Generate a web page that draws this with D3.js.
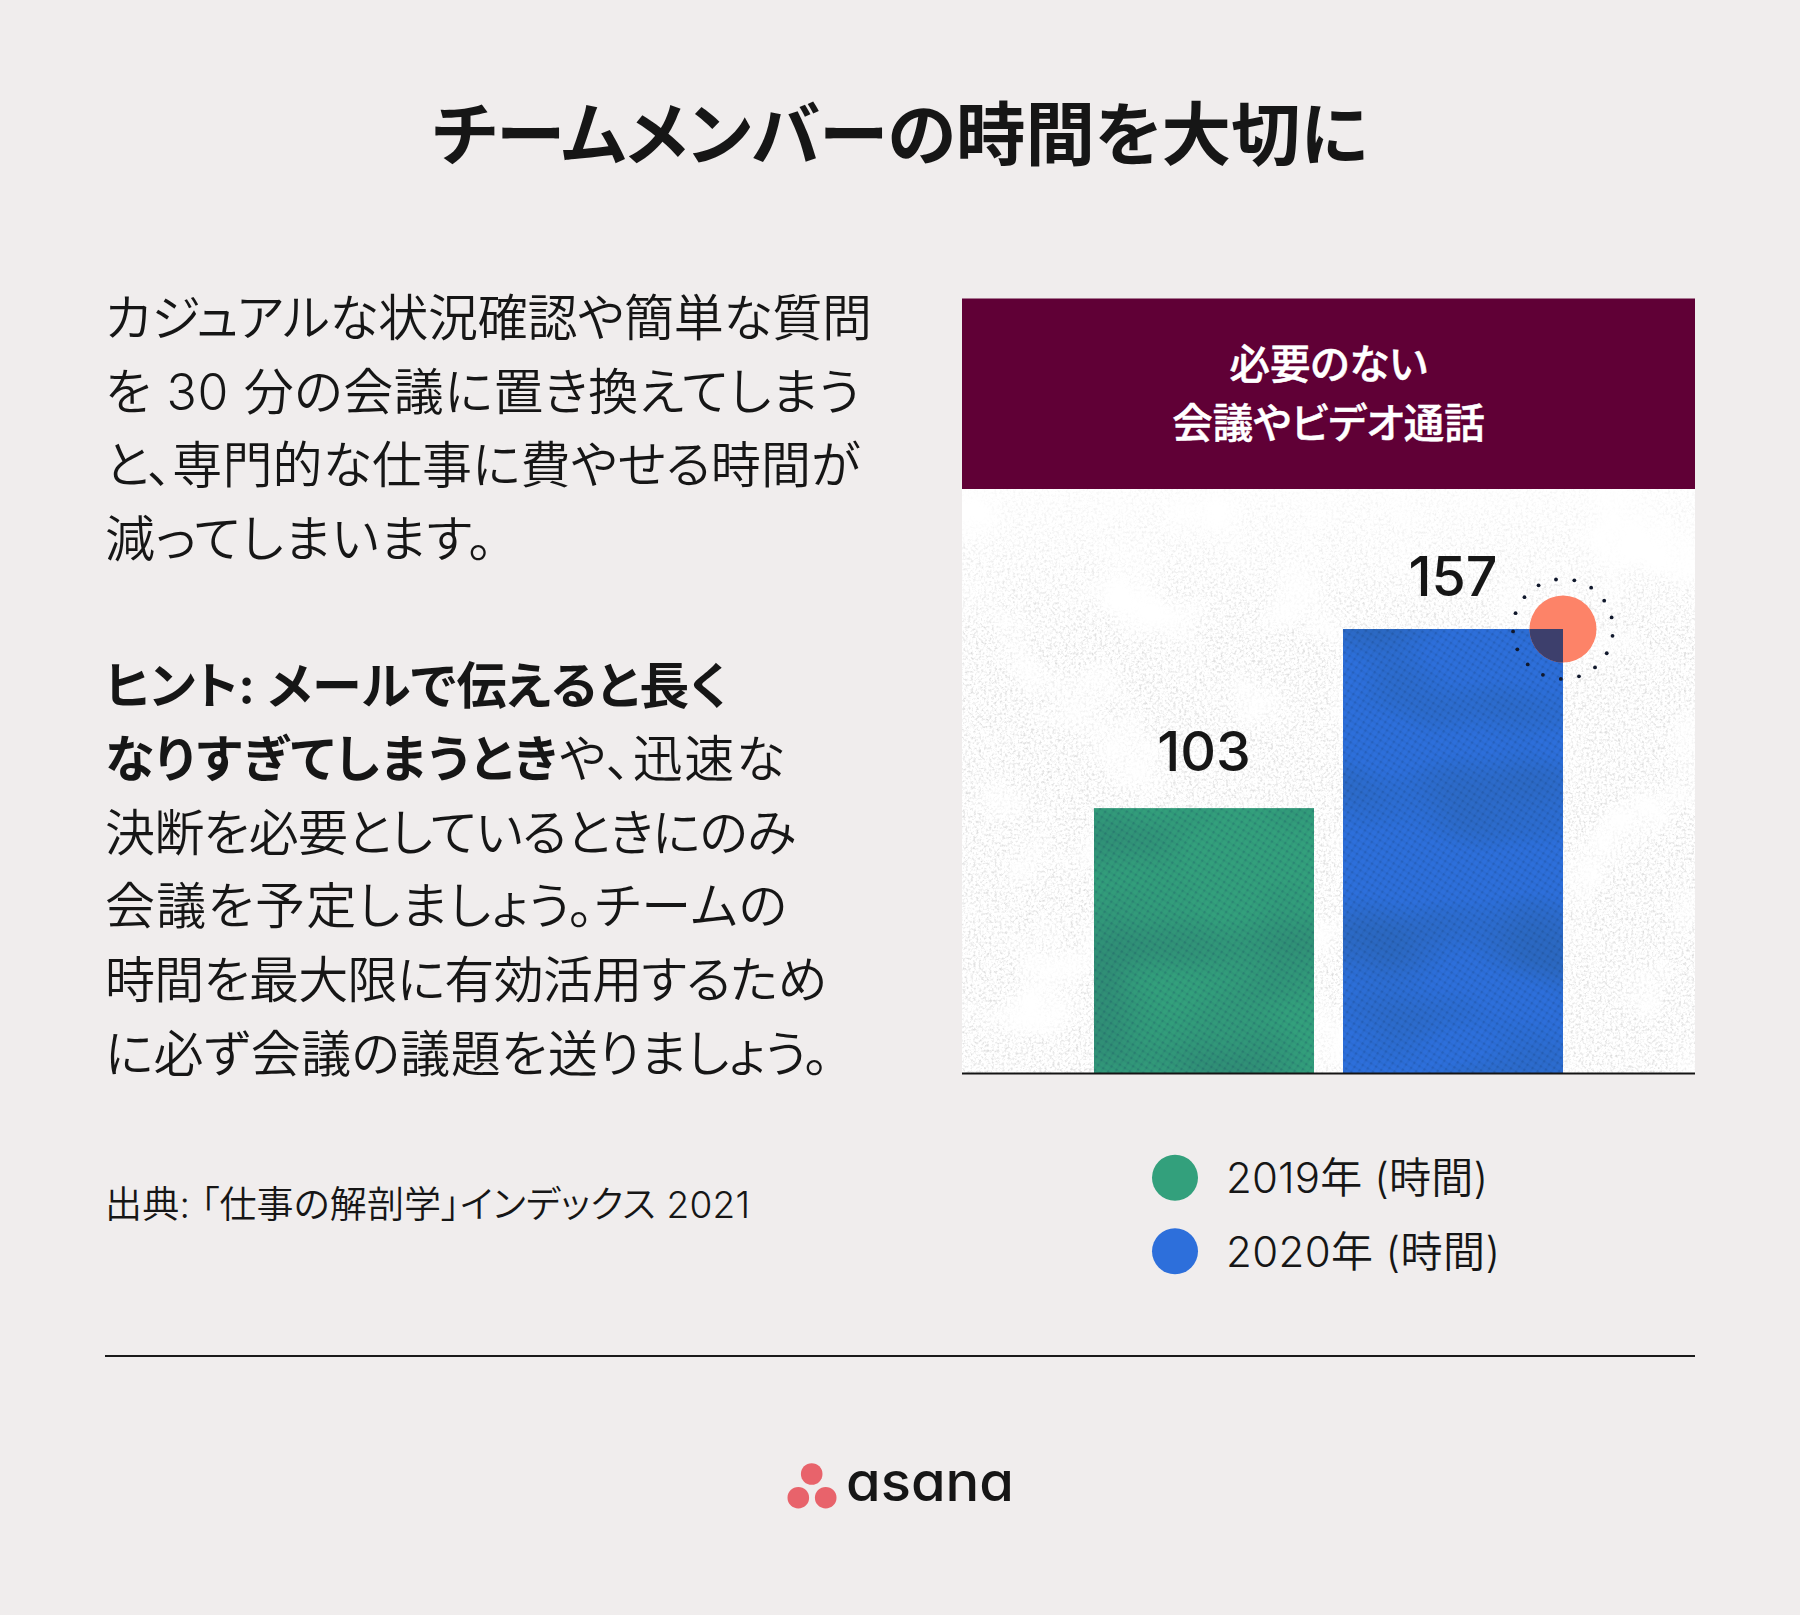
<!DOCTYPE html>
<html lang="ja">
<head>
<meta charset="utf-8">
<script src="https://cdn.jsdelivr.net/npm/d3@7/dist/d3.min.js"></script>
<style>
  html, body { margin: 0; padding: 0; background: #f0eded; }
  svg { display: block; }
  text {
    font-family: Inter, "Noto Sans CJK JP", sans-serif;
    font-feature-settings: "palt" 1;
    fill: #161616;
  }
</style>
</head>
<body>
<svg id="chart" width="1800" height="1615"></svg>
<script>
var titleText = 'チームメンバーの時間を大切に';
var panelTitle = ['必要のない', '会議やビデオ通話'];
var years = ['2019', '2020'];
var hours = [103, 157];
var legendLabels = ['2019年 (時間)', '2020年 (時間)'];
var colors = ['#33a07c', '#2d6fdb'];
var introLines = [
  'カジュアルな状況確認や簡単な質問',
  'を 30 分の会議に置き換えてしまう',
  'と、専門的な仕事に費やせる時間が',
  '減ってしまいます。'
];
// each line is a list of [text, bold] runs
var hintLines = [
  [['ヒント: メールで伝えると長く', true]],
  [['なりすぎてしまうとき', true], ['や、迅速な', false]],
  [['決断を必要としているときにのみ', false]],
  [['会議を予定しましょう。チームの', false]],
  [['時間を最大限に有効活用するため', false]],
  [['に必ず会議の議題を送りましょう。', false]]
];
var sourceText = '出典: 「仕事の解剖学」インデックス 2021';
var ringDots = d3.range(17);

// rendered widths of the text lines, so the line ends fall where they do in the source
var introWidths = [767, 755, 755, 388];
var hintWidths = [622, 680, 691, 682, 722, 724];
var legendWidths = [262, 274];
var bodyWeight = 350;

var svg = d3.select('#chart');
var defs = svg.append('defs');

function writeFilters() {
  // pale grey speckle, gathered in patches, for the white panel
  var speckle = defs.append('filter').attr('id', 'speckle')
    .attr('x', 0).attr('y', 0).attr('width', 1).attr('height', 1);
  speckle.append('feTurbulence')
    .attr('type', 'fractalNoise').attr('baseFrequency', 0.38)
    .attr('numOctaves', 3).attr('seed', 4).attr('result', 'fine');
  speckle.append('feColorMatrix').attr('in', 'fine').attr('type', 'matrix')
    .attr('values', '0 0 0 0 0.72  0 0 0 0 0.72  0 0 0 0 0.72  2.6 0 0 0 -1.2')
    .attr('result', 'grain');
  speckle.append('feTurbulence')
    .attr('type', 'fractalNoise').attr('baseFrequency', 0.012)
    .attr('numOctaves', 3).attr('seed', 21).attr('result', 'coarse');
  speckle.append('feColorMatrix').attr('in', 'coarse').attr('type', 'matrix')
    .attr('values', '0 0 0 0 0  0 0 0 0 0  0 0 0 0 0  3.4 0 0 0 -0.75')
    .attr('result', 'patches');
  speckle.append('feComposite').attr('in', 'grain').attr('in2', 'patches').attr('operator', 'in');

  // soft darker areas on the bars
  var mottle = defs.append('filter').attr('id', 'mottle')
    .attr('x', 0).attr('y', 0).attr('width', 1).attr('height', 1);
  mottle.append('feTurbulence')
    .attr('type', 'fractalNoise').attr('baseFrequency', '0.007 0.011')
    .attr('numOctaves', 2).attr('seed', 8);
  mottle.append('feColorMatrix').attr('type', 'matrix')
    .attr('values', '0 0 0 0 0.02  0 0 0 0 0.08  0 0 0 0 0.12  3.2 0 0 0 -1.35');

  // halftone weave
  var weave = defs.append('pattern').attr('id', 'weave')
    .attr('width', 6).attr('height', 6)
    .attr('patternUnits', 'userSpaceOnUse')
    .attr('patternTransform', 'rotate(33)');
  weave.append('rect').attr('width', 6).attr('height', 2.2)
    .attr('fill', '#0b2a55').attr('opacity', 0.06);
  weave.append('rect').attr('width', 2.2).attr('height', 6)
    .attr('fill', '#0b2a55').attr('opacity', 0.06);
  weave.append('circle').attr('cx', 1.1).attr('cy', 1.1).attr('r', 1.3)
    .attr('fill', '#0b2a55').attr('opacity', 0.12);

  var fade = defs.append('linearGradient').attr('id', 'fade')
    .attr('x1', 0).attr('x2', 0).attr('y1', 0).attr('y2', 1);
  fade.append('stop').attr('offset', 0).attr('stop-color', '#fff').attr('stop-opacity', 0.3);
  fade.append('stop').attr('offset', 0.25).attr('stop-color', '#fff').attr('stop-opacity', 1);
  defs.append('mask').attr('id', 'fadeMask').attr('maskContentUnits', 'objectBoundingBox')
    .append('rect').attr('width', 1).attr('height', 1).attr('fill', 'url(#fade)');
}

function writeText() {
  svg.append('text')
    .attr('x', 900).attr('y', 160)
    .attr('text-anchor', 'middle')
    .attr('font-size', 69.5).attr('font-weight', 700)
    .text(titleText);

  svg.append('g').selectAll('text').data(introLines).join('text')
    .attr('x', 105)
    .attr('y', function(d, i) { return 336 + i * 73.6; })
    .attr('font-size', 50).attr('font-weight', bodyWeight)
    .attr('textLength', function(d, i) { return introWidths[i]; })
    .text(function(d) { return d; });

  svg.append('g').selectAll('text').data(hintLines).join('text')
    .attr('x', 105)
    .attr('y', function(d, i) { return 703.5 + i * 73.6; })
    .attr('font-size', 50).attr('font-weight', bodyWeight)
    .attr('textLength', function(d, i) { return hintWidths[i]; })
    .selectAll('tspan').data(function(d) { return d; }).join('tspan')
    .attr('font-weight', function(d) { return d[1] ? 700 : bodyWeight; })
    .text(function(d) { return d[0]; });

  svg.append('text')
    .attr('x', 105).attr('y', 1218)
    .attr('font-size', 37).attr('font-weight', bodyWeight)
    .attr('textLength', 645)
    .text(sourceText);
}

function writePanel() {
  var panel = { left: 962, right: 1695, top: 298.5, head: 489, base: 1073.5 };

  svg.append('rect')
    .attr('x', panel.left).attr('y', panel.head)
    .attr('width', panel.right - panel.left)
    .attr('height', panel.base - panel.head)
    .attr('fill', '#fff');
  svg.append('g').attr('mask', 'url(#fadeMask)').append('rect')
    .attr('x', panel.left).attr('y', panel.head)
    .attr('width', panel.right - panel.left)
    .attr('height', panel.base - panel.head)
    .attr('filter', 'url(#speckle)');
  svg.append('rect')
    .attr('x', panel.left).attr('y', panel.top)
    .attr('width', panel.right - panel.left)
    .attr('height', panel.head - panel.top)
    .attr('fill', '#600036');

  svg.append('g').selectAll('text').data(panelTitle).join('text')
    .attr('x', (panel.left + panel.right) / 2)
    .attr('y', function(d, i) { return 378.5 + i * 59; })
    .attr('text-anchor', 'middle')
    .attr('font-size', 40.5).attr('font-weight', 500)
    .style('fill', '#fff')
    .style('stroke', '#fff').style('stroke-width', 0.5)
    .text(function(d) { return d; });

  // the bars in the source do not start at zero
  var x = d3.scaleBand().domain(years).range([1094, 1563]).paddingInner(0.1165);
  var y = d3.scaleLinear().domain([23, 157]).range([panel.base, 629]);
  var labelGap = [37.5, 33];

  var bars = svg.append('g').selectAll('g').data(years).join('g');
  function barAttrs(sel) {
    sel.attr('x', function(d) { return x(d); })
      .attr('width', x.bandwidth())
      .attr('y', function(d, i) { return y(hours[i]); })
      .attr('height', function(d, i) { return y(y.domain()[0]) - y(hours[i]); });
  }
  bars.append('rect').call(barAttrs)
    .attr('fill', function(d, i) { return colors[i]; });
  bars.append('rect').call(barAttrs).attr('filter', 'url(#mottle)').attr('opacity', 0.2);
  bars.append('rect').call(barAttrs).attr('fill', 'url(#weave)');

  svg.append('g').selectAll('text').data(hours).join('text')
    .attr('x', function(d, i) { return x(years[i]) + x.bandwidth() / 2; })
    .attr('y', function(d, i) { return y(d) - labelGap[i]; })
    .attr('text-anchor', 'middle')
    .attr('font-size', 55.5).attr('font-weight', 500)
    .text(function(d) { return d; });

  // orange marker on the top right corner of the last bar
  var cx = x(years[1]) + x.bandwidth();
  var cy = y(hours[1]);
  defs.append('clipPath').attr('id', 'barClip').append('rect').call(function(sel) {
    sel.attr('x', x(years[1])).attr('y', cy)
      .attr('width', x.bandwidth()).attr('height', y(y.domain()[0]) - cy);
  });
  svg.append('circle').attr('cx', cx).attr('cy', cy).attr('r', 33.5).attr('fill', '#fd8368');
  svg.append('circle').attr('cx', cx).attr('cy', cy).attr('r', 33.5)
    .attr('fill', '#3d3f6c').attr('clip-path', 'url(#barClip)');
  svg.append('g').selectAll('circle').data(ringDots).join('circle')
    .attr('cx', function(d) { return cx + 50 * Math.cos(-1.342 + d * 2 * Math.PI / 17); })
    .attr('cy', function(d) { return cy + 50 * Math.sin(-1.342 + d * 2 * Math.PI / 17); })
    .attr('r', 1.9).attr('fill', '#10182c');

  svg.append('line')
    .attr('x1', panel.left).attr('x2', panel.right)
    .attr('y1', panel.base).attr('y2', panel.base)
    .attr('stroke', '#141414').attr('stroke-width', 2);
}

function writeLegend() {
  var rows = svg.append('g').selectAll('g').data(legendLabels).join('g')
    .attr('transform', function(d, i) { return 'translate(1175,' + (1177.7 + i * 73.6) + ')'; });
  rows.append('circle').attr('r', 23)
    .attr('fill', function(d, i) { return colors[i]; });
  rows.append('text')
    .attr('x', 51).attr('y', 15.5)
    .attr('font-size', 42).attr('font-weight', bodyWeight)
    .attr('textLength', function(d, i) { return legendWidths[i]; })
    .text(function(d) { return d; });
}

function writeFooter() {
  svg.append('line')
    .attr('x1', 105).attr('x2', 1695)
    .attr('y1', 1356).attr('y2', 1356)
    .attr('stroke', '#1a1a1a').attr('stroke-width', 2.2);

  var logo = [[811.7, 1474], [798.3, 1497.7], [825.7, 1497.7]];
  svg.append('g').selectAll('circle').data(logo).join('circle')
    .attr('cx', function(d) { return d[0]; })
    .attr('cy', function(d) { return d[1]; })
    .attr('r', 10.8).attr('fill', '#e8636b');

  svg.append('text')
    .attr('x', 846).attr('y', 1501)
    .attr('font-size', 54).attr('font-weight', 500)
    .attr('textLength', 168).attr('lengthAdjust', 'spacingAndGlyphs')
    .style('font-feature-settings', '"cv11" 1')
    .text('asana');
}

writeFilters();
writeText();
writePanel();
writeLegend();
writeFooter();
</script>
</body>
</html>
